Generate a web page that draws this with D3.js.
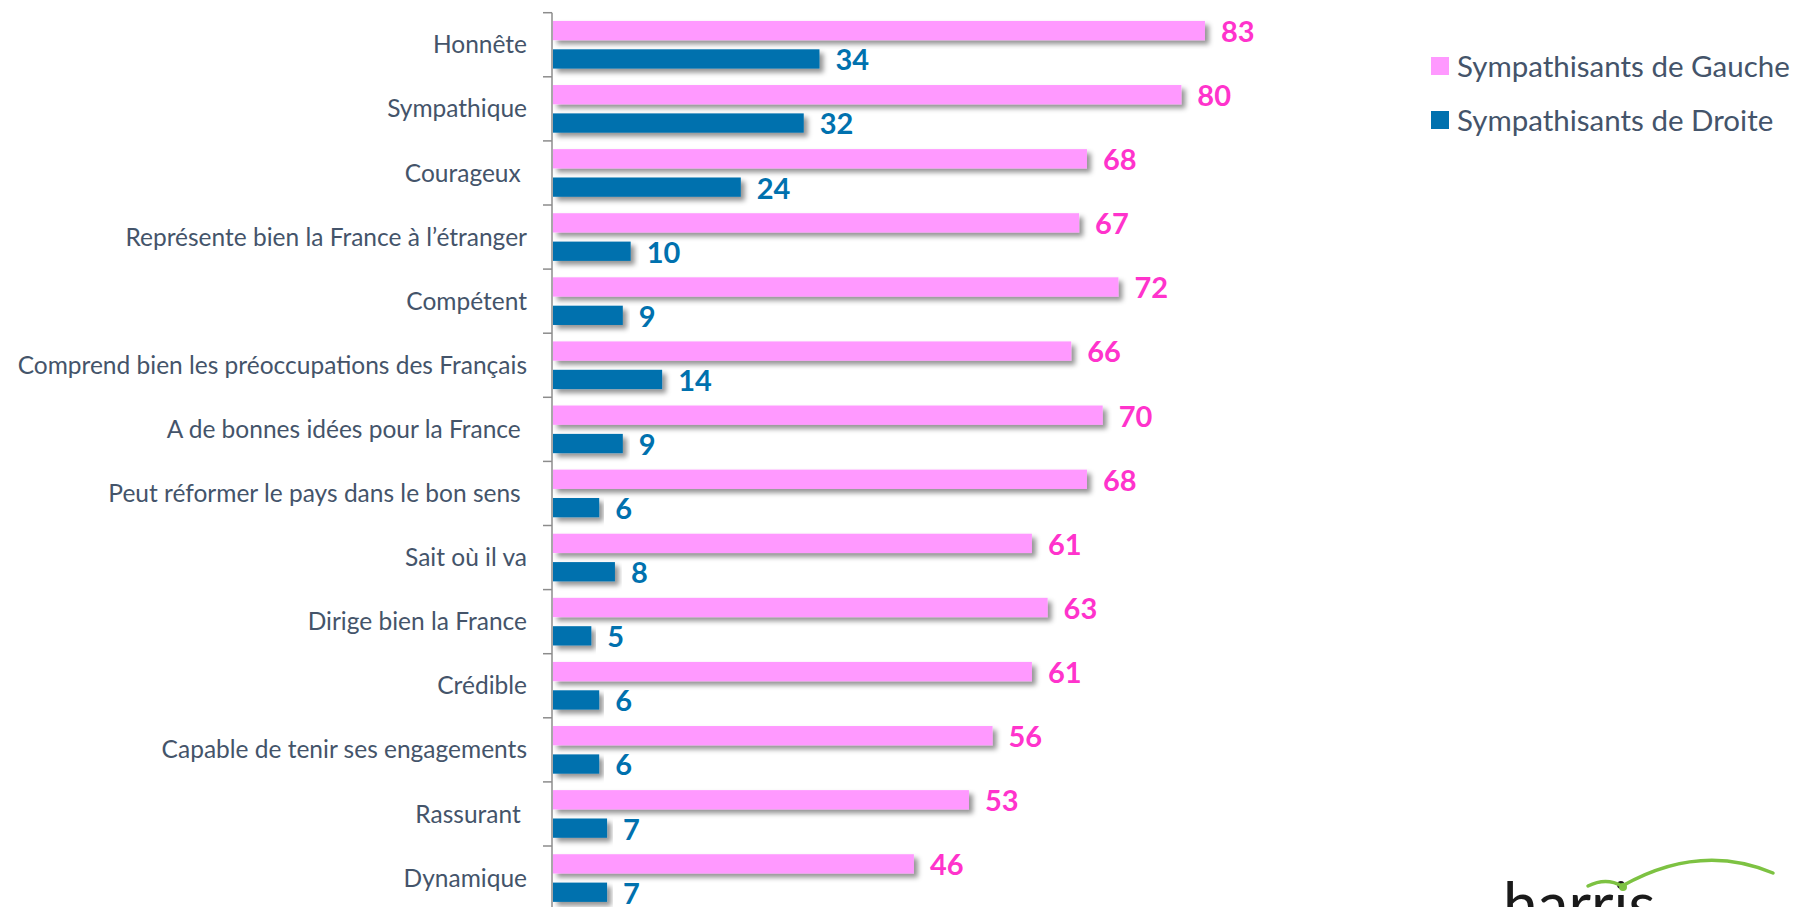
<!DOCTYPE html>
<html>
<head>
<meta charset="utf-8">
<script src="https://cdn.jsdelivr.net/npm/d3@7"></script>
<style>
  html, body { margin: 0; padding: 0; background: #fff; overflow: hidden; }
  svg { display: block; font-family: Lato, "Open Sans", sans-serif; }
  .cat text { white-space: pre; }
</style>
</head>
<body>
<svg class="view" width="1793" height="907"></svg>
<script>
var categories = [
    'Honnête',
    'Sympathique',
    'Courageux ',
    'Représente bien la France à l’étranger',
    'Compétent',
    'Comprend bien les préoccupations des Français',
    'A de bonnes idées pour la France ',
    'Peut réformer le pays dans le bon sens ',
    'Sait où il va',
    'Dirige bien la France',
    'Crédible',
    'Capable de tenir ses engagements',
    'Rassurant ',
    'Dynamique'
];
var seriesNames = ['Sympathisants de Gauche', 'Sympathisants de Droite'];
var gauche = [83, 80, 68, 67, 72, 66, 70, 68, 61, 63, 61, 56, 53, 46];
var droite = [34, 32, 24, 10, 9, 14, 9, 6, 8, 5, 6, 6, 7, 7];

var barColors = ['#ff99ff', '#0071ae'];
var labelColors = ['#ff33cc', '#0071ae'];

var svg = d3.select('.view'),
    width = +svg.attr('width'),
    height = +svg.attr('height');

var x = d3.scaleLinear().domain([0, 100]).range([552, 1338.7]);
var y = d3.scaleBand().domain(categories).range([12.7, 12.7 + 14 * 64.1]);
var sub = d3.scaleBand().domain([0, 1]).range([0, y.bandwidth()])
    .paddingInner(0.32).paddingOuter(0.29);

var defs = svg.append('defs');
var shadow = defs.append('filter').attr('id', 'shadow')
    .attr('x', '-5%').attr('y', '-40%').attr('width', '115%').attr('height', '200%');
shadow.append('feDropShadow')
    .attr('dx', 4).attr('dy', 4).attr('stdDeviation', 2.5)
    .attr('flood-color', '#000').attr('flood-opacity', 0.42);

var rows = categories.map(function (c, i) {
    return {cat: c, values: [gauche[i], droite[i]]};
});

// category labels
var yAxis = svg.append('g')
    .attr('class', 'cat')
    .attr('transform', 'translate(' + x(0) + ',0)')
    .call(d3.axisLeft(y).tickSize(0).tickPadding(25));
yAxis.select('.domain').remove();
yAxis.selectAll('text')
    .attr('font-family', 'Lato, "Open Sans", sans-serif')
    .attr('font-size', 24.5)
    .attr('fill', '#44546a')
    .attr('dy', '0.35em');

// axis line with ticks at band boundaries
var axisColor = '#8c8c8c';
svg.append('line')
    .attr('x1', x(0)).attr('x2', x(0))
    .attr('y1', y.range()[0]).attr('y2', y.range()[1])
    .attr('stroke', axisColor).attr('stroke-width', 1.5);
svg.append('g').selectAll('line')
    .data(categories)
    .enter().append('line')
    .attr('x1', x(0) - 9).attr('x2', x(0))
    .attr('y1', function (d) { return y(d); })
    .attr('y2', function (d) { return y(d); })
    .attr('stroke', axisColor).attr('stroke-width', 1.5);

var group = svg.append('g').selectAll('g')
    .data(rows)
    .enter().append('g')
    .attr('transform', function (d) { return 'translate(0,' + y(d.cat) + ')'; });

var cells = group.selectAll('g')
    .data(function (d) {
        return d.values.map(function (v, k) { return {k: k, v: v}; });
    })
    .enter().append('g');

cells.append('rect')
    .attr('x', x(0) + 1)
    .attr('y', function (d) { return sub(d.k); })
    .attr('width', function (d) { return x(d.v) - x(0) - 1; })
    .attr('height', sub.bandwidth())
    .attr('fill', function (d) { return barColors[d.k]; })
    .attr('filter', 'url(#shadow)');

cells.append('text')
    .attr('x', function (d) { return x(d.v) + 16; })
    .attr('y', function (d) { return sub(d.k) + sub.bandwidth() / 2 + 1; })
    .attr('dy', '0.36em')
    .attr('font-size', 29)
    .attr('font-weight', 'bold')
    .attr('fill', function (d) { return labelColors[d.k]; })
    .text(function (d) { return d.v; });

// legend
var legend = svg.append('g').selectAll('g')
    .data(seriesNames)
    .enter().append('g')
    .attr('transform', function (d, i) { return 'translate(1431,' + (57 + i * 54) + ')'; });
legend.append('rect')
    .attr('width', 18).attr('height', 18)
    .attr('fill', function (d, i) { return barColors[i]; });
legend.append('text')
    .attr('x', 26).attr('y', 9)
    .attr('dy', '0.36em')
    .attr('font-size', 29.5)
    .attr('fill', '#44546a')
    .text(function (d) { return d; });

// harris logo, cut off at the bottom
var logo = svg.append('g');
logo.append('text')
    .attr('x', 1503).attr('y', 927)
    .attr('font-size', 62)
    .attr('fill', '#1a1a1a')
    .text('harris');
logo.append('path')
    .attr('d', 'M1588,886 Q1606,877 1622,886 Q1700,842 1773,873')
    .attr('fill', 'none')
    .attr('stroke', '#7dc242')
    .attr('stroke-width', 3.5)
    .attr('stroke-linecap', 'round');
logo.append('circle')
    .attr('cx', 1623).attr('cy', 887).attr('r', 4)
    .attr('fill', '#7dc242');
</script>
</body>
</html>
